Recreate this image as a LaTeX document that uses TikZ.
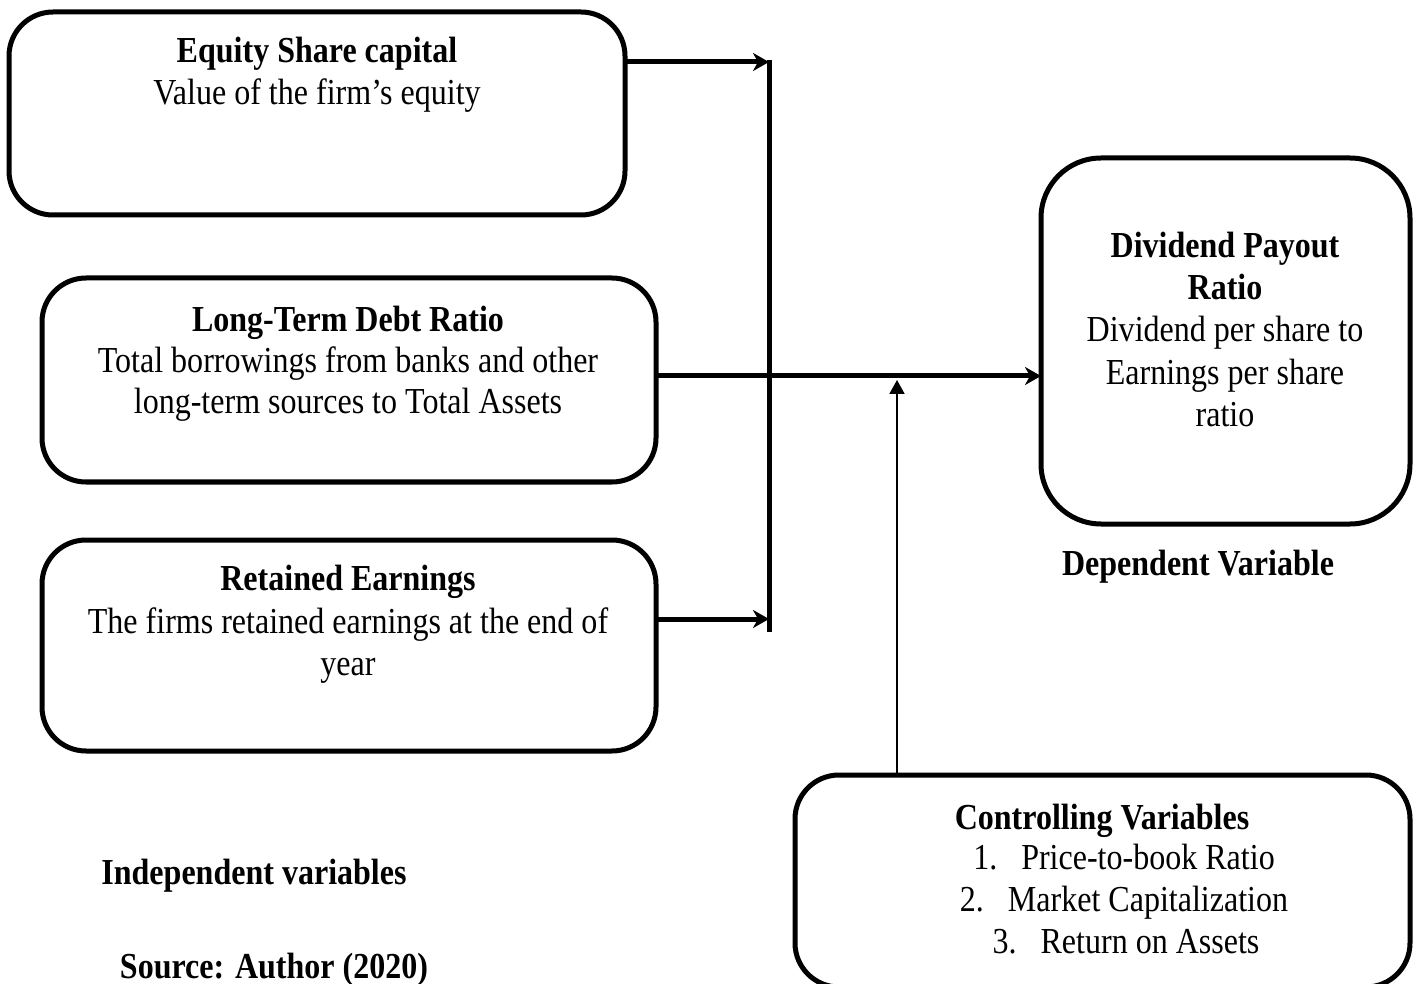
\documentclass[tikz,border=0pt]{standalone}
\usepackage{fontspec}
\setmainfont[FakeStretch=0.875]{Liberation Serif}
\usetikzlibrary{arrows.meta}
\begin{document}
\begin{tikzpicture}[x=0.5pt,y=-0.5pt,
  box/.style={draw, line width=2.5pt, rounded corners=22pt, inner sep=0pt, outer sep=0pt},
  txt/.style={anchor=base, inner sep=0pt, font=\fontsize{18.3}{21}\selectfont},
  btxt/.style={txt, font=\fontsize{18.3}{21}\selectfont\bfseries},
  bigarrow/.style={line width=2.5pt, -{Stealth[length=8pt,width=9pt,inset=2.5pt]}},
  thinarrow/.style={line width=1pt, -{Triangle[length=7pt,width=7.5pt]}},
  barline/.style={line width=2.5pt}]
\useasboundingbox (0,0) rectangle (1415,984);

% boxes
\node[box, minimum width=308pt, minimum height=101.5pt] (b1) at (317,113.5) {};
\node[box, minimum width=307pt, minimum height=102pt] (b2) at (349,380) {};
\node[box, minimum width=307pt, minimum height=105.5pt] (b3) at (349,645.5) {};
\node[box, rounded corners=30pt, minimum width=184.5pt, minimum height=183pt] (div) at (1225.5,341) {};
\node[box, minimum width=307.5pt, minimum height=106pt] (ctrl) at (1102.5,881) {};

% texts
\node[btxt] (t1a) at (317,63) {Equity Share capital};
\node[txt] (t1b) at (317,105) {Value of the firm’s equity};

\node[btxt] (t2a) at (348,332) {Long-Term Debt Ratio};
\node[txt] (t2b) at (348,372) {Total borrowings from banks and other};
\node[txt] (t2c) at (348,414) {long-term sources to Total Assets};

\node[btxt] (t3a) at (348,590) {Retained Earnings};
\node[txt] (t3b) at (348,633) {The firms retained earnings at the end of};
\node[txt] (t3c) at (348,675) {year};

\node[btxt] (d1) at (1225,258) {Dividend Payout};
\node[btxt] (d2) at (1225,300) {Ratio};
\node[txt] (d3) at (1225,342) {Dividend per share to};
\node[txt] (d4) at (1225,385) {Earnings per share};
\node[txt] (d5) at (1225,427) {ratio};

\node[btxt] (dep) at (1198,575) {Dependent Variable};

\node[btxt] (c0) at (1102,829) {Controlling Variables};
\node[txt] (c1) at (1124,869) {1.\hspace{12pt}Price-to-book Ratio};
\node[txt] (c2) at (1124,911) {2.\hspace{12pt}Market Capitalization};
\node[txt] (c3) at (1126,953) {3.\hspace{12pt}Return on Assets};

\node[btxt] (ind) at (254,884) {Independent variables};
\node[btxt] (src) at (274,978) {Source: Author (2020)};

% connectors
\coordinate (bartop) at (769,60);
\coordinate (barbot) at (769,632);
\coordinate (j1) at (769,62);
\coordinate (j3) at (769,619);
\coordinate (mid) at (897,376);
\draw[barline] (bartop) -- (barbot);
\draw[bigarrow] (b1.east |- j1) -- (j1);
\draw[bigarrow] (b3.east |- j3) -- (j3);
\draw[bigarrow] (b2.east |- mid) -- (div.west |- mid);
\draw[thinarrow] (ctrl.north -| mid) -- ([yshift=-2pt]mid);
\end{tikzpicture}
\end{document}
